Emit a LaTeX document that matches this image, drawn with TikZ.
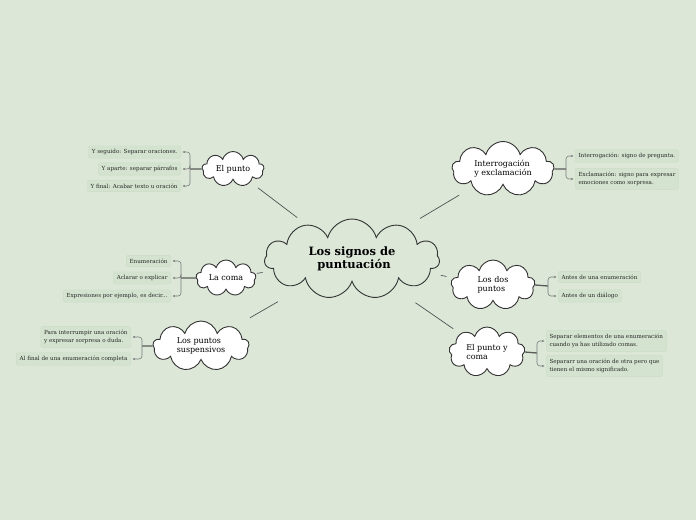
\documentclass[tikz,border=0pt]{standalone}
\usepackage{fontspec}
\setmainfont{DejaVu Serif}
\usetikzlibrary{shapes.symbols,arrows.meta,calc}
\definecolor{bg}{HTML}{DCE7D8}
\definecolor{leaffill}{HTML}{D4E3CF}
\definecolor{leafdraw}{HTML}{CADCC5}
\definecolor{ink}{HTML}{333333}
\definecolor{conn}{HTML}{5A5A5A}
\tikzset{
 cloudbox/.style={cloud, cloud puffs=9, cloud ignores aspect, draw=ink, line width=0.9pt, fill=white, align=left, font=\fontsize{8}{9}\selectfont, inner sep=0pt},
 leaf/.style={fill=leaffill, draw=leafdraw, rounded corners=1.5pt, inner sep=3.3pt, font=\fontsize{5.6}{8.5}\selectfont, align=left, text=black!85},
 spoke/.style={draw=ink!85, line width=0.7pt},
 stem/.style={draw=conn, line width=1.3pt},
 brk/.style={draw=conn!80, line width=0.6pt, rounded corners=3pt, -{Stealth[length=2.5pt,width=2.2pt]}, shorten >=1.5pt},
}
\begin{document}
\begin{tikzpicture}[x=1pt,y=-1pt]
\fill[bg] (0,0) rectangle (696,520);
\useasboundingbox (0,0) rectangle (696,520);
% central
\node[cloudbox, fill=bg, cloud puffs=11, minimum width=175pt, minimum height=80pt, font=\bfseries\fontsize{11.5}{13.5}\selectfont, align=center] (main) at (352,259) {Los signos de\\ \ puntuación};
% children
\node[cloudbox, minimum width=62pt, minimum height=35pt, align=center] (punto) at (233,169) {El punto};
\node[cloudbox, minimum width=60pt, minimum height=36pt, align=center] (coma) at (226,278) {La coma};
\node[cloudbox, minimum width=96pt, minimum height=50pt] (susp) at (201,346) {Los puntos\\suspensivos};
\node[cloudbox, minimum width=102pt, minimum height=55pt] (inter) at (503,169) {Interrogación\\y exclamación};
\node[cloudbox, minimum width=84pt, minimum height=50pt] (dos) at (493,285) {Los dos\\puntos};
\node[cloudbox, minimum width=76pt, minimum height=50pt] (pyc) at (487,352) {El punto y\\coma};
% spokes
\foreach \c/\a/\b in {punto/0.46/0.79, inter/0.45/0.71, coma/0.71/0.755, dos/0.63/0.67, susp/0.49/0.675, pyc/0.47/0.75}
  \draw[spoke] ($(main)!\a!(\c)$) -- ($(main)!\b!(\c)$);
% leaves: El punto
\node[leaf, anchor=east] (p1) at (181,152) {Y seguido: Separar oraciones.};
\node[leaf, anchor=east] (p2) at (181,169) {Y aparte: separar párrafos};
\node[leaf, anchor=east] (p3) at (181,186) {Y final: Acabar texto u oración};
\draw[stem] (punto.west) -- (190,169) coordinate (jp);
\foreach \l in {p1,p2,p3} \draw[brk] (jp) |- (\l.east);
% La coma
\node[leaf, anchor=east] (c1) at (171,261) {Enumeración};
\node[leaf, anchor=east] (c2) at (171,278) {Aclarar o explicar};
\node[leaf, anchor=east] (c3) at (171,296) {Expresiones por ejemplo, es decir...};
\draw[stem] (coma.west) -- (181,278) coordinate (jc);
\foreach \l in {c1,c2,c3} \draw[brk] (jc) |- (\l.east);
% puntos suspensivos
\node[leaf, anchor=east] (s1) at (131,337) {Para interrumpir una oración\\y expresar sorpresa o duda.};
\node[leaf, anchor=east] (s2) at (131,359) {Al final de una enumeración completa};
\draw[stem] (susp.west) -- (142,346) coordinate (js);
\foreach \l in {s1,s2} \draw[brk] (js) |- (\l.east);
% Interrogacion
\node[leaf, anchor=west] (i1) at (575,156) {Interrogación: signo de pregunta.};
\node[leaf, anchor=west] (i2) at (575,179) {Exclamación: signo para expresar\\emociones como sorpresa.};
\draw[stem] (inter.east) -- (566,169) coordinate (ji);
\foreach \l in {i1,i2} \draw[brk] (ji) |- (\l.west);
% dos puntos
\node[leaf, anchor=west] (d1) at (558,277) {Antes de una enumeración};
\node[leaf, anchor=west] (d2) at (558,296) {Antes de un diálogo};
\draw[stem] (dos.east) -- (548,286) coordinate (jd);
\foreach \l in {d1,d2} \draw[brk] (jd) |- (\l.west);
% punto y coma
\node[leaf, anchor=west] (y1) at (546,341) {Separar elementos de una enumeración\\cuando ya has utilizado comas.};
\node[leaf, anchor=west] (y2) at (546,366) {Separarr una oración de otra pero que\\tienen el mismo significado.};
\draw[stem] (pyc.east) -- (537,353) coordinate (jy);
\foreach \l in {y1,y2} \draw[brk] (jy) |- (\l.west);
\end{tikzpicture}
\end{document}
